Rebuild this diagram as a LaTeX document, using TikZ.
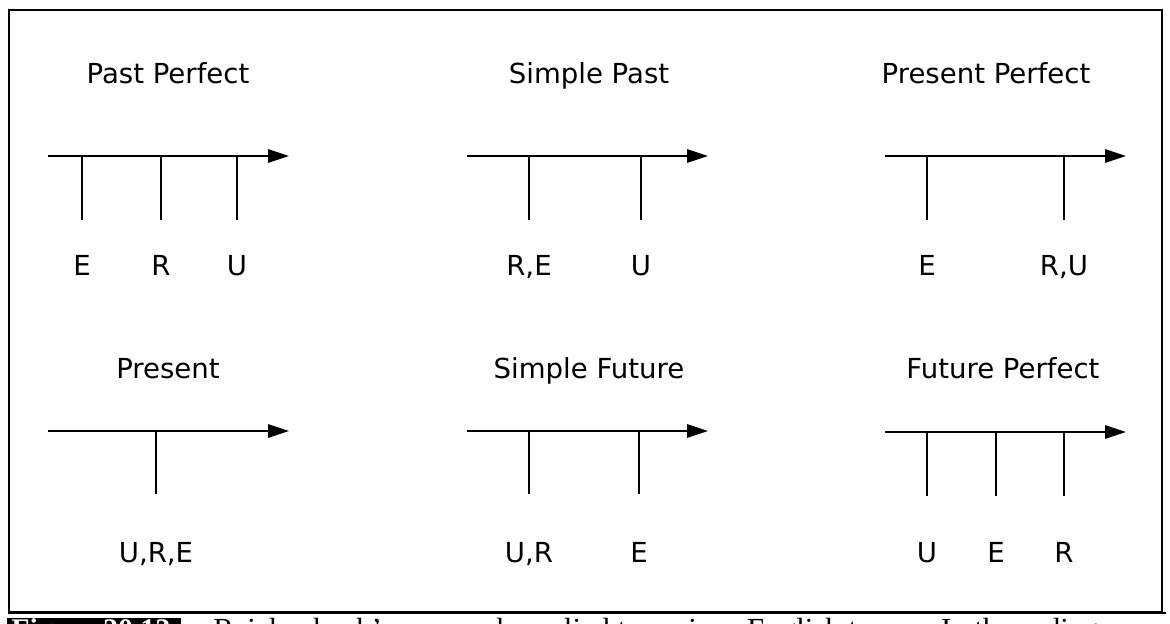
\documentclass[tikz,border=0pt]{standalone}
\usepackage{fontspec}
\setmainfont{Liberation Serif}
\newfontfamily\tensefont{DejaVu Sans}
\usepackage{tikz}
\usetikzlibrary{calc,arrows.meta}
\newcommand{\tikzTenseAxis}[2]{
  \coordinate (#1a) at (#2);
  \coordinate (#1b) at ($(#2)+(241,0)$);
  \path[draw,axis] (#1a) -- (#1b);
}

\begin{document}
\begin{tikzpicture}[x=0.025cm,y=-0.025cm,
  axis/.style={line width=1.4pt,-{Triangle[length=0.52cm,width=0.33cm]}},
  tick/.style={line width=1.1pt},
  title/.style={anchor=base,inner sep=0pt,font=\tensefont\fontsize{19.6pt}{24pt}\selectfont},
  letter/.style={title}]

  \useasboundingbox (0,0) rectangle (1170,624);
  \clip (0,0) rectangle (1170,624);

  \draw[line width=1.1pt] (9,10) rectangle (1162,612);
  \draw[line width=2.1pt] (8,613) -- (1166,613);

  % top row
  \node [title] (pastperf) at (168,83) {Past Perfect};
  \tikzTenseAxis{pp}{48,156}
  \foreach \n/\x/\t in {e/82/E, r/161/R, u/237/U} {
    \coordinate (pp\n0) at (\x,156);
    \coordinate (pp\n1) at (\x,220);
    \path[draw,tick] (pp\n0) -- (pp\n1);
    \node [letter] (pp\n l) at (\x,275) {\t};
  }

  \node [title] (simppast) at (589,83) {Simple Past};
  \tikzTenseAxis{sp}{467,156}
  \foreach \n/\x/\t in {re/529/{R,E}, u/641/U} {
    \coordinate (sp\n0) at (\x,156);
    \coordinate (sp\n1) at (\x,220);
    \path[draw,tick] (sp\n0) -- (sp\n1);
    \node [letter] (sp\n l) at (\x,275) {\t};
  }

  \node [title] (presperf) at (986,83) {Present Perfect};
  \tikzTenseAxis{rp}{885,156}
  \foreach \n/\x/\t in {e/927/E, ru/1064/{R,U}} {
    \coordinate (rp\n0) at (\x,156);
    \coordinate (rp\n1) at (\x,220);
    \path[draw,tick] (rp\n0) -- (rp\n1);
    \node [letter] (rp\n l) at (\x,275) {\t};
  }

  % bottom row
  \node [title] (pres) at (168,378) {Present};
  \tikzTenseAxis{pr}{48,431}
  \foreach \n/\x/\t in {ure/156/{U,R,E}} {
    \coordinate (pr\n0) at (\x,431);
    \coordinate (pr\n1) at (\x,494);
    \path[draw,tick] (pr\n0) -- (pr\n1);
    \node [letter] (pr\n l) at (\x,562) {\t};
  }

  \node [title] (simpfut) at (589,378) {Simple Future};
  \tikzTenseAxis{sf}{467,431}
  \foreach \n/\x/\t in {ur/529/{U,R}, e/639/E} {
    \coordinate (sf\n0) at (\x,431);
    \coordinate (sf\n1) at (\x,494);
    \path[draw,tick] (sf\n0) -- (sf\n1);
    \node [letter] (sf\n l) at (\x,562) {\t};
  }

  \node [title] (futperf) at (1003,378) {Future Perfect};
  \tikzTenseAxis{fp}{885,432}
  \foreach \n/\x/\t in {u/927/U, e/996/E, r/1064/R} {
    \coordinate (fp\n0) at (\x,432);
    \coordinate (fp\n1) at (\x,496);
    \path[draw,tick] (fp\n0) -- (fp\n1);
    \node [letter] (fp\n l) at (\x,562) {\t};
  }

  % caption, cut off by the page
  \fill (7,618) rectangle (181,660);
  \node [anchor=base west,inner sep=0pt,text=white,font=\bfseries\fontsize{21.3pt}{26pt}\selectfont] (capnum) at (11,639) {Figure 20.12};
  \node [anchor=base west,inner sep=0pt,font=\fontsize{21.8pt}{26pt}\selectfont] (captext) at (213,639) {Reichenbach's approach applied to various English tenses. In these diagrams};

\end{tikzpicture}
\end{document}
